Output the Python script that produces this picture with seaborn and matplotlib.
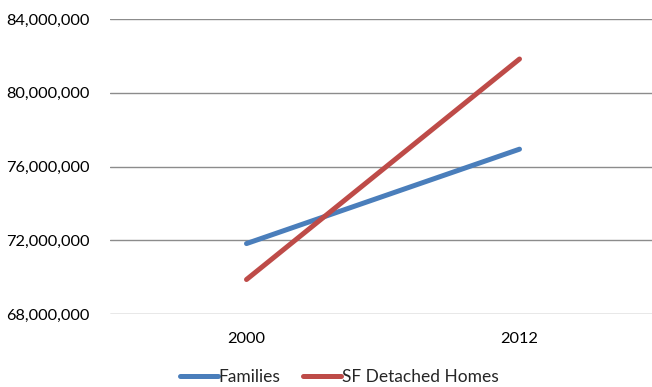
import pandas as pd
import seaborn as sns
import matplotlib.pyplot as plt
from matplotlib.ticker import FuncFormatter

# data
years = ["2000", "2012"]
families = [71_820_000, 76_940_000]
sf_detached = [69_870_000, 81_830_000]

df = pd.DataFrame({
    "year": years * 2,
    "value": families + sf_detached,
    "series": ["Families"] * 2 + ["SF Detached Homes"] * 2,
})

sns.set_style("white")
plt.rcParams["font.family"] = ["Lato", "DejaVu Sans"]

fig = plt.figure(figsize=(6.52, 3.87), dpi=100)
ax = fig.add_axes([110 / 652, 73 / 387, 546 / 652, 295 / 387])

sns.lineplot(
    data=df, x="year", y="value", hue="series",
    palette={"Families": "#4A7EBB", "SF Detached Homes": "#BE4B48"},
    linewidth=3.6, ax=ax, solid_capstyle="round",
)

ax.set_xlim(-0.5, 1.5)
ax.set_ylim(68_000_000, 84_000_000)
ax.set_yticks(range(68_000_000, 84_000_001, 4_000_000))
ax.yaxis.set_major_formatter(FuncFormatter(lambda v, p: f"{int(v):,}"))
ax.grid(axis="y", color="#8C8C8C", linewidth=1.0)
ax.grid(axis="x", visible=False)
ax.set_axisbelow(True)
for s in ax.spines.values():
    s.set_visible(False)
ax.tick_params(axis="both", length=0, labelsize=11.8, colors="#000000")
ax.tick_params(axis="y", pad=15)
ax.tick_params(axis="x", pad=13)
ax.set_xlabel("")
ax.set_ylabel("")

leg = ax.legend(
    loc="center", bbox_to_anchor=(0.42, -0.215), ncol=2, frameon=False,
    fontsize=12.5, handlelength=2.2, handletextpad=0.05, columnspacing=1.3,
)
for line in leg.get_lines():
    line.set_linewidth(3.6)

fig.savefig("out.png", dpi=100)
